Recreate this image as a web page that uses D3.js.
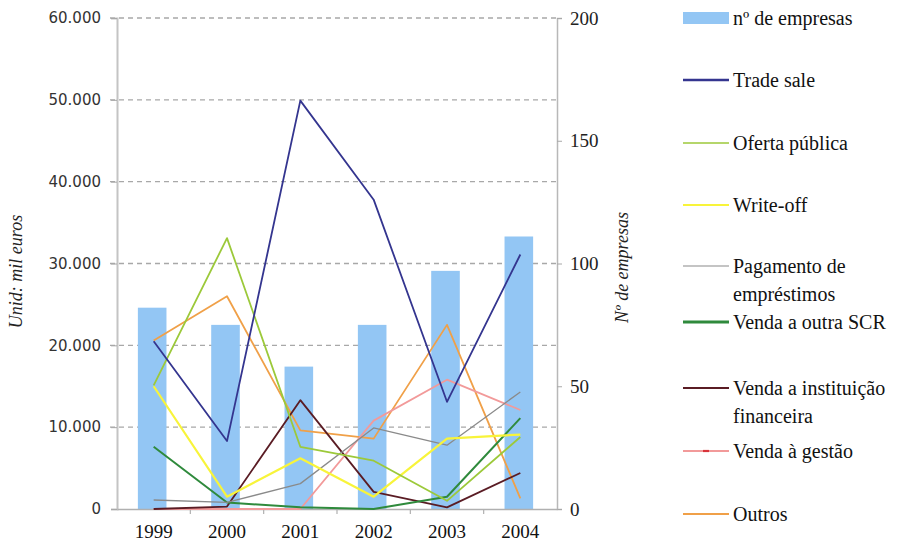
<!DOCTYPE html>
<html><head><meta charset="utf-8">
<script src="https://cdn.jsdelivr.net/npm/d3@7"></script>
<style>
body{margin:0;background:#fff} svg{display:block}
.serif{font-family:"Liberation Serif","Times New Roman",Times,"DejaVu Serif",serif;}
.sans{font-family:"DejaVu Sans",Verdana,sans-serif;}
</style>
</head><body>
<svg id="c" width="898" height="550"></svg>
<script>
// ---- data ----
const years = ["1999","2000","2001","2002","2003","2004"];
const nEmpresas = [82, 75, 58, 75, 97, 111];
const tradeSale = [20500, 8300, 49900, 37800, 13100, 31100];
const ofertaPublica = [15100, 33100, 7600, 5900, 1000, 8800];
const writeOff = [15000, 1500, 6200, 1500, 8600, 9100];
const pagamentoEmprestimos = [1100, 800, 3100, 9900, 7800, 14300];
const vendaOutraSCR = [7600, 800, 200, 0, 1500, 11100];
const vendaInstituicao = [0, 300, 13300, 2100, 200, 4400];
const vendaGestao = [0, 0, 0, 10800, 15800, 12100];
const outros = [20600, 26000, 9600, 8600, 22500, 1300];
const leftTicks = [0, 10000, 20000, 30000, 40000, 50000, 60000];
const rightTicks = [0, 50, 100, 150, 200];
const barLabel = "nº de empresas";
const seriesLabels = ["Trade sale", "Oferta pública", "Write-off", ["Pagamento de","empréstimos"],
  "Venda a outra SCR", ["Venda a instituição","financeira"], "Venda à gestão", "Outros"];
const seriesValues = [tradeSale, ofertaPublica, writeOff, pagamentoEmprestimos, vendaOutraSCR, vendaInstituicao, vendaGestao, outros];
const leftTitle = "Unid: mil euros";
const rightTitle = "Nº de empresas";

// ---- styles ----
const seriesColors = ["#34358f", "#9cc93a", "#f8f43a", "#8a8a8a", "#2f8a3c", "#5a1c24", "#f29a9a", "#f0a048"];
const seriesWidths = [1.8, 1.8, 2.2, 1.3, 2, 1.8, 1.8, 1.8];
const legendWidths = [2.5, 1.5, 2.2, 1.2, 3.2, 2, 2.2, 1.8];
const barColor = "#93c6f4";

const svg = d3.select("#c");
const L = 117, R = 557, T = 18, B = 509;
const x = d3.scaleBand().domain(years).range([L, R]).padding(0);
const y = d3.scaleLinear().domain([0, 60000]).range([B, T]);
const y2 = d3.scaleLinear().domain([0, 200]).range([B, T]);
const fmt = d3.formatLocale({decimal: ",", thousands: ".", grouping: [3], currency: ["", "€"]}).format(",");

// gridlines
svg.append("g").selectAll("line").data(leftTicks.filter(d => d > 0)).join("line")
  .attr("x1", L - 7).attr("x2", R).attr("y1", d => y(d)).attr("y2", d => y(d))
  .attr("stroke", "#a8a8a8").attr("stroke-width", 1.3).attr("stroke-dasharray", "5,4");

// bars
const bw = x.bandwidth() * 0.39;
svg.append("g").selectAll("rect").data(nEmpresas).join("rect")
  .attr("x", (d, i) => x(years[i]) + x.bandwidth() / 2 - bw / 2 - 1.5)
  .attr("width", bw)
  .attr("y", d => y2(d)).attr("height", d => B - y2(d))
  .attr("fill", barColor);

// left axis
const gL = svg.append("g").attr("transform", `translate(${L},0)`)
  .call(d3.axisLeft(y).tickValues(leftTicks).tickFormat(fmt).tickSize(6).tickPadding(10));
gL.attr("font-family", null).attr("font-size", null);
gL.select(".domain").attr("stroke", "#c4c4c4").attr("stroke-width", 2);
gL.selectAll(".tick line").attr("stroke", "#a8a8a8");
gL.selectAll(".tick text").attr("class", "sans").style("font-size", "15px").attr("fill", "#333");

// right axis
const gR = svg.append("g").attr("transform", `translate(${R},0)`)
  .call(d3.axisRight(y2).tickValues(rightTicks).tickSize(5).tickPadding(8));
gR.attr("font-family", null).attr("font-size", null);
gR.select(".domain").attr("stroke", "#b8b8b8").attr("stroke-width", 1.5);
gR.selectAll(".tick line").attr("stroke", "#a8a8a8");
gR.selectAll(".tick text").attr("class", "serif").style("font-size", "19px").attr("fill", "#222");

// x axis
const gX = svg.append("g").attr("transform", `translate(0,${B})`)
  .call(d3.axisBottom(x).tickSize(0).tickPadding(16));
gX.attr("font-family", null).attr("font-size", null);
gX.select(".domain").attr("stroke", "#b0b0b0").attr("stroke-width", 1.5);
gX.selectAll(".tick text").attr("class", "serif").style("font-size", "19px").attr("fill", "#111");
svg.append("g").selectAll("line").data(years.slice(1)).join("line")
  .attr("x1", d => x(d)).attr("x2", d => x(d)).attr("y1", B).attr("y2", B + 5)
  .attr("stroke", "#b0b0b0").attr("stroke-width", 1.2);

// lines
const line = d3.line().x((d, i) => x(years[i]) + x.bandwidth() / 2).y(d => y(d));
const order = [7, 6, 5, 4, 3, 2, 1, 0];
svg.append("g").selectAll("path").data(order).join("path")
  .attr("d", k => line(seriesValues[k]))
  .attr("fill", "none")
  .attr("stroke", k => seriesColors[k])
  .attr("stroke-width", k => seriesWidths[k])
  .attr("stroke-linejoin", "round");

// axis titles
svg.append("text").attr("class", "serif").attr("transform", `translate(22,${(T + B) / 2 + 8}) rotate(-90)`)
  .attr("text-anchor", "middle").style("font-style", "italic").style("font-size", "18px")
  .attr("fill", "#222").text(leftTitle);
svg.append("text").attr("class", "serif").attr("transform", `translate(628,${(T + B) / 2 + 4}) rotate(-90)`)
  .attr("text-anchor", "middle").style("font-style", "italic").style("font-size", "18px")
  .attr("fill", "#222").text(rightTitle);

// legend
const legY = [18, 80, 143, 205, 266, 322, 388, 451, 514];
const lx0 = 683, lx1 = 729, tx = 733;
const leg = svg.append("g");
leg.append("rect").attr("x", lx0).attr("y", legY[0] - 6).attr("width", lx1 - lx0).attr("height", 12).attr("fill", barColor);
leg.append("text").attr("class", "serif").style("font-size", "20px").attr("fill", "#111")
  .attr("x", tx).attr("y", legY[0]).attr("dy", "0.35em").text(barLabel);
seriesLabels.forEach((lab, k) => {
  const yy = legY[k + 1];
  leg.append("line").attr("x1", lx0).attr("x2", lx1).attr("y1", yy).attr("y2", yy)
    .attr("stroke", seriesColors[k]).attr("stroke-width", legendWidths[k]);
  const lines = Array.isArray(lab) ? lab : [lab];
  const t = leg.append("text").attr("class", "serif").style("font-size", "20px").attr("fill", "#111")
    .attr("x", tx).attr("y", yy);
  lines.forEach((s, j) => t.append("tspan").attr("x", tx).attr("dy", j === 0 ? "0.35em" : "1.4em").text(s));
});
// marker on "Venda à gestão"
leg.append("line").attr("x1", (lx0 + lx1) / 2 - 3).attr("x2", (lx0 + lx1) / 2 + 3)
  .attr("y1", legY[7]).attr("y2", legY[7]).attr("stroke", "#d8333a").attr("stroke-width", 2.2);
</script>
</body></html>
